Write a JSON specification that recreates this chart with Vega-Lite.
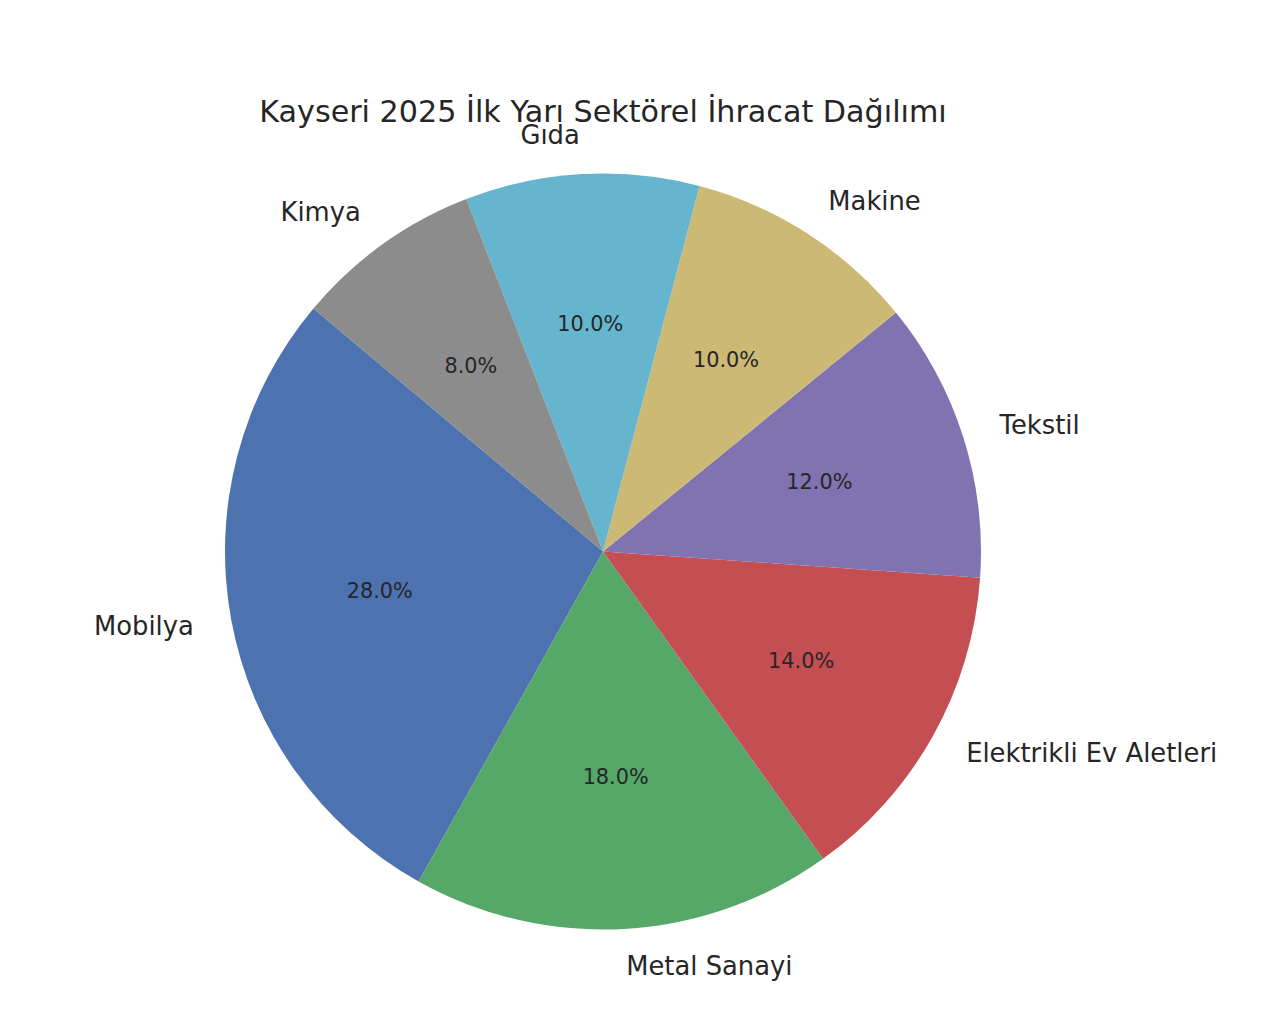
{
  "$schema": "https://vega.github.io/schema/vega-lite/v6.json",
  "width": 1206,
  "height": 901,
  "autosize": {"type": "none"},
  "padding": {"left": 0, "top": 101, "right": 74, "bottom": 33},
  "background": "white",
  "title": {
    "text": "Kayseri 2025 İlk Yarı Sektörel İhracat Dağılımı",
    "font": "DejaVu Sans",
    "fontSize": 30.2,
    "fontWeight": "normal",
    "color": "#262626",
    "anchor": "middle",
    "baseline": "alphabetic",
    "offset": -51
  },
  "config": {"view": {"stroke": null}},
  "data": {
    "values": [
      {"sector": "Mobilya", "value": 28},
      {"sector": "Metal Sanayi", "value": 18},
      {"sector": "Elektrikli Ev Aletleri", "value": 14},
      {"sector": "Tekstil", "value": 12},
      {"sector": "Makine", "value": 10},
      {"sector": "Gıda", "value": 10},
      {"sector": "Kimya", "value": 8}
    ]
  },
  "transform": [
    {
      "stack": "value",
      "groupby": [],
      "sort": [
        {"field": "value", "order": "ascending"},
        {"field": "sector", "order": "ascending"}
      ],
      "as": ["v0", "v1"]
    },
    {"calculate": "(datum.v0 + datum.v1) / 2", "as": "vmid"},
    {"calculate": "format(datum.value, '.1f') + '%'", "as": "pct"}
  ],
  "layer": [
    {
      "mark": {"type": "arc", "outerRadius": 378, "stroke": null},
      "encoding": {
        "theta": {
          "field": "v0",
          "type": "quantitative",
          "stack": null,
          "scale": {"domain": [0, 100], "range": [-0.872665, 5.410520]}
        },
        "theta2": {"field": "v1"},
        "color": {
          "field": "sector",
          "type": "nominal",
          "legend": null,
          "scale": {
            "domain": ["Mobilya", "Metal Sanayi", "Elektrikli Ev Aletleri", "Tekstil", "Makine", "Gıda", "Kimya"],
            "range": ["#4C72B0", "#55A868", "#C44E52", "#8172B2", "#CCB974", "#64B5CD", "#8C8C8C"]
          }
        }
      }
    },
    {
      "mark": {"type": "text", "radius": 416, "align": "right", "baseline": "middle", "font": "DejaVu Sans", "fontSize": 25.8, "color": "#262626"},
      "encoding": {
        "theta": {"field": "vmid", "type": "quantitative", "stack": null},
        "text": {
          "condition": {"test": "indexof(['Mobilya','Gıda','Kimya'], datum.sector) >= 0", "field": "sector", "type": "nominal"},
          "value": ""
        }
      }
    },
    {
      "mark": {"type": "text", "radius": 416, "align": "left", "baseline": "middle", "font": "DejaVu Sans", "fontSize": 25.8, "color": "#262626"},
      "encoding": {
        "theta": {"field": "vmid", "type": "quantitative", "stack": null},
        "text": {
          "condition": {"test": "indexof(['Mobilya','Gıda','Kimya'], datum.sector) < 0", "field": "sector", "type": "nominal"},
          "value": ""
        }
      }
    },
    {
      "mark": {"type": "text", "radius": 227, "align": "center", "baseline": "middle", "font": "DejaVu Sans", "fontSize": 20.8, "color": "#262626"},
      "encoding": {
        "theta": {"field": "vmid", "type": "quantitative", "stack": null},
        "text": {"field": "pct", "type": "nominal"}
      }
    }
  ]
}
